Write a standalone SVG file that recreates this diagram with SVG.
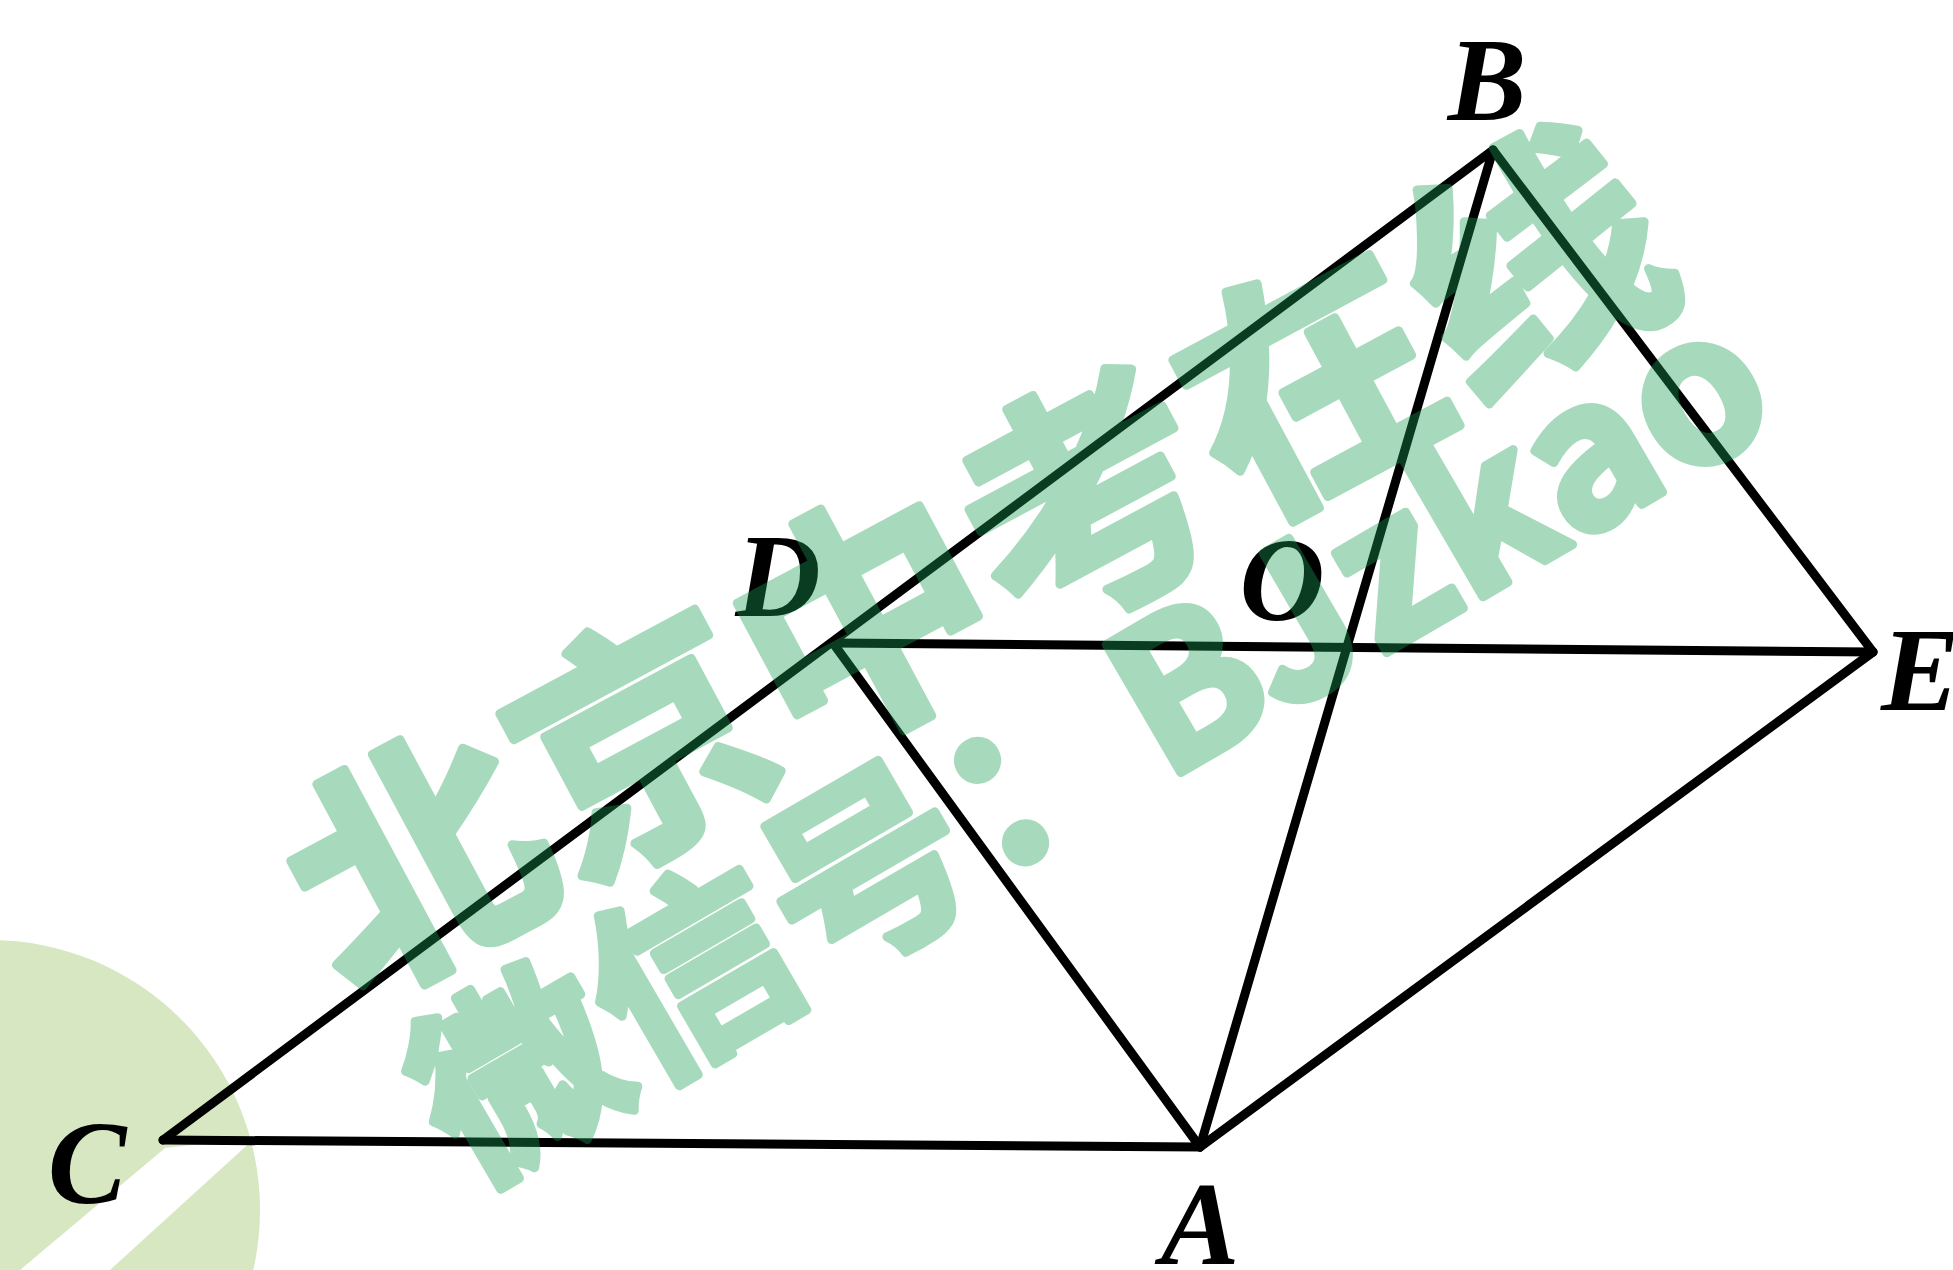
<svg xmlns="http://www.w3.org/2000/svg" width="1953" height="1270" viewBox="0 0 1953 1270">
<style>
.edge{stroke:#000;stroke-width:9;stroke-linecap:round;fill:none}
.lbl{font-family:"Liberation Serif","Times New Roman",serif;font-style:italic;font-weight:bold;font-size:118px;fill:#000}
.wm{font-family:"Noto Sans CJK SC","Noto Sans",sans-serif;font-weight:bold;fill:#1a9e54;stroke:#1a9e54;stroke-width:9;stroke-linejoin:round}
</style>
<rect width="1953" height="1270" fill="#fff"/>
<g id="logo">
<circle cx="-10" cy="1210" r="270" fill="#d6e7c1"/>
<polygon points="20,1270 165,1148 255,1138 110,1270" fill="#fff"/>
</g>
<g id="connectors">
<line class="edge" x1="163" y1="1140" x2="1200" y2="1147"/>
<line class="edge" x1="163" y1="1140" x2="1493" y2="150"/>
<line class="edge" x1="833" y1="643" x2="1873" y2="652"/>
<line class="edge" x1="833" y1="643" x2="1200" y2="1147"/>
<line class="edge" x1="1200" y1="1147" x2="1493" y2="150"/>
<line class="edge" x1="1493" y1="150" x2="1873" y2="652"/>
<line class="edge" x1="1200" y1="1147" x2="1873" y2="652"/>
</g>
<g id="node-B"><text class="lbl" x="1487" y="120" text-anchor="middle">B</text></g>
<g id="node-D"><text class="lbl" x="778" y="616" text-anchor="middle">D</text></g>
<g id="node-O"><text class="lbl" x="1282" y="620" text-anchor="middle">O</text></g>
<g id="node-E"><text class="lbl" x="1881" y="710">E</text></g>
<g id="node-C"><text class="lbl" x="87" y="1203" text-anchor="middle" font-size="126">C</text></g>
<g id="node-A"><text class="lbl" x="1200" y="1264" text-anchor="middle">A</text></g>
<g id="watermark" opacity="0.38">
<g transform="translate(417,859) rotate(-28.2)"><text class="wm" x="-126" y="95" font-size="250" textLength="1518" lengthAdjust="spacing">北京中考在线</text></g>
<g transform="translate(517,1071) rotate(-30.2)"><text class="wm" x="-100" y="76" font-size="200" textLength="1522" lengthAdjust="spacing">微信号：BJzkao</text></g>
</g>
</svg>
